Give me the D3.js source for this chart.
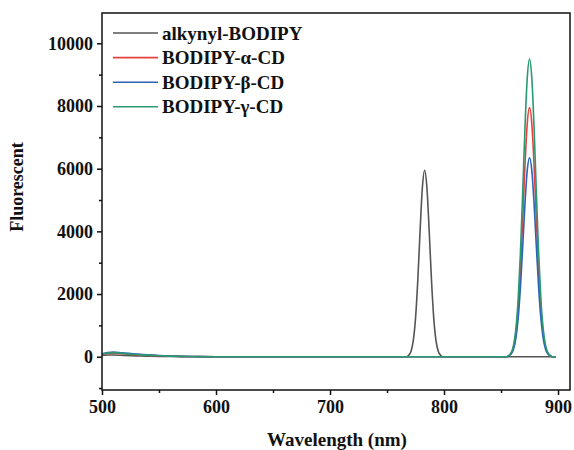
<!DOCTYPE html>
<html>
<head>
<meta charset="utf-8">
<script src="https://cdn.jsdelivr.net/npm/d3@7"></script>
<style>
  body { margin: 0; background: #fff; }
  svg text { font-family: "Liberation Serif", "Times New Roman", serif; font-weight: bold; fill: #111; }
</style>
</head>
<body>
<svg id="chart" width="574" height="450"></svg>
<script>
// series names / colours in legend order
var seriesNames = ["alkynyl-BODIPY", "BODIPY-\u03b1-CD", "BODIPY-\u03b2-CD", "BODIPY-\u03b3-CD"];
var seriesColors = ["#555555", "#e5413f", "#2d63b8", "#2a9a70"];

// wavelength grid for the free dye
var blackWave = [500, 505, 510, 520, 530, 540, 550, 560, 580, 600, 700, 767, 769, 771, 773, 775, 777, 779, 781, 783, 785, 787, 789, 791, 793, 795, 797, 799, 850, 898];
var blackVals = [40, 55, 55, 40, 28, 18, 10, 5, 0, 0, 0, 0, 47, 170, 505, 1225, 2445, 4010, 5390, 5950, 5390, 4010, 2445, 1225, 505, 170, 47, 0, 0, 0];

// wavelength grid for the cyclodextrin conjugates
var cdWave = [500, 505, 510, 515, 520, 530, 540, 550, 560, 570, 580, 600, 700, 800, 855, 857, 859, 861, 863, 865, 867, 869, 871, 873, 875, 877, 879, 881, 883, 885, 887, 889, 891, 893, 895, 898];
var alphaVals = [70, 100, 110, 105, 90, 65, 45, 30, 18, 10, 5, 0, 0, 0, 0, 37, 115, 312, 736, 1520, 2760, 4380, 6105, 7440, 7950, 7440, 6105, 4380, 2760, 1520, 736, 312, 115, 37, 0, 0];
var betaVals = [95, 130, 145, 135, 115, 85, 58, 38, 22, 12, 6, 0, 0, 0, 0, 30, 92, 249, 588, 1213, 2205, 3500, 4875, 5945, 6350, 5945, 4875, 3500, 2205, 1213, 588, 249, 92, 30, 0, 0];
var gammaVals = [80, 115, 125, 118, 100, 72, 50, 32, 20, 11, 5, 0, 0, 0, 0, 45, 138, 372, 880, 1815, 3300, 5230, 7300, 8890, 9500, 8890, 7300, 5230, 3300, 1815, 880, 372, 138, 45, 0, 0];

var xTicks = [500, 600, 700, 800, 900];
var xMinor = [550, 650, 750, 850];
var yTicks = [0, 2000, 4000, 6000, 8000, 10000];
var yMinor = [-1000, 1000, 3000, 5000, 7000, 9000];

var svg = d3.select("#chart");
var mLeft = 102, mRight = 570, mTop = 13, mBottom = 390;

var x = d3.scaleLinear().domain([500, 910.5]).range([mLeft, mRight]);
var y = d3.scaleLinear().domain([-1062, 10967]).range([mBottom, mTop]);

function pts(wave, vals) {
  return wave.map(function(w, i) { return [w, vals[i]]; });
}
var series = [
  pts(blackWave, blackVals),
  pts(cdWave, alphaVals),
  pts(cdWave, betaVals),
  pts(cdWave, gammaVals)
];

var line = d3.line()
  .x(function(d) { return x(d[0]); })
  .y(function(d) { return y(d[1]); })
  .curve(d3.curveMonotoneX);

svg.append("g").selectAll("path")
  .data(series)
  .enter()
  .append("path")
  .attr("d", line)
  .attr("fill", "none")
  .attr("stroke", function(d, i) { return seriesColors[i]; })
  .attr("stroke-width", 1.6);

// axes
var xAxis = svg.append("g").attr("transform", "translate(0," + mBottom + ")")
  .call(d3.axisBottom(x).tickValues(xTicks).tickSize(5).tickPadding(5).tickFormat(d3.format("d")));
var xAxisMinor = svg.append("g").attr("transform", "translate(0," + mBottom + ")")
  .call(d3.axisBottom(x).tickValues(xMinor).tickSize(3).tickFormat(""));
var yAxis = svg.append("g").attr("transform", "translate(" + mLeft + ",0)")
  .call(d3.axisLeft(y).tickValues(yTicks).tickSize(5).tickPadding(4).tickFormat(d3.format("d")));
var yAxisMinor = svg.append("g").attr("transform", "translate(" + mLeft + ",0)")
  .call(d3.axisLeft(y).tickValues(yMinor).tickSize(3).tickFormat(""));

[xAxis, xAxisMinor, yAxis, yAxisMinor].forEach(function(g) {
  g.selectAll(".domain").remove();
  g.selectAll("line").attr("stroke", "#111").attr("stroke-width", 1.5);
  g.selectAll("text").style("font-size", "18px");
});

// frame
svg.append("rect")
  .attr("x", mLeft).attr("y", mTop)
  .attr("width", mRight - mLeft).attr("height", mBottom - mTop)
  .attr("fill", "none").attr("stroke", "#111").attr("stroke-width", 1.5);

// axis titles
svg.append("text")
  .attr("x", 337).attr("y", 446)
  .attr("text-anchor", "middle").style("font-size", "19px")
  .text("Wavelength (nm)");
svg.append("text")
  .attr("transform", "translate(23,187) rotate(-90)")
  .attr("text-anchor", "middle").style("font-size", "18px")
  .text("Fluorescent");

// legend
var legend = svg.append("g").selectAll("g")
  .data(seriesNames)
  .enter()
  .append("g")
  .attr("transform", function(d, i) { return "translate(113," + (33 + i * 24.6) + ")"; });
legend.append("line")
  .attr("x1", 0).attr("x2", 45)
  .attr("stroke", function(d, i) { return seriesColors[i]; })
  .attr("stroke-width", 1.6);
legend.append("text")
  .attr("x", 49).attr("dy", "0.35em")
  .style("font-size", "19px")
  .text(function(d) { return d; });
</script>
</body>
</html>
